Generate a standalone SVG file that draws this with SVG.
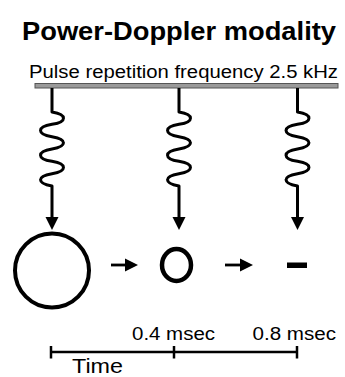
<svg xmlns="http://www.w3.org/2000/svg" xmlns:xlink="http://www.w3.org/1999/xlink" width="345" height="377" viewBox="0 0 345 377">
<style>
text{font-family:"Liberation Sans",Arial,Helvetica,sans-serif;fill:#000}
.title{font-size:26px;font-weight:bold}
.sub{font-size:18px}
.lbl{font-size:18px}
.time{font-size:21px}
.ln{fill:none;stroke:#000;stroke-width:2.8}
.wave{fill:none;stroke:#000;stroke-width:3;stroke-linejoin:round}
.ax{fill:none;stroke:#000;stroke-width:2.5}
</style>
<defs>
<marker id="ah" markerUnits="userSpaceOnUse" markerWidth="14" markerHeight="14" viewBox="0 0 14 14" refX="7" refY="7" orient="auto">
<path d="M0,0.5 L13,7 L0,13.5 Z" fill="#000"/>
</marker>
<path id="pulse" class="wave" d="M0,88 V112 C15.3,114.5 15.3,121.9 0,124.33 C-15.3,126.8 -15.3,134.2 0,136.67 C15.3,139.1 15.3,146.5 0,149 C-15.3,151.5 -15.3,158.9 0,161.33 C15.3,163.8 15.3,171.2 0,173.67 C-15.3,176.1 -15.3,183.5 0,186 V224" marker-end="url(#ah)"/>
</defs>
<g id="title">
<text class="title" x="22" y="40" textLength="314" lengthAdjust="spacingAndGlyphs">Power-Doppler modality</text>
</g>
<g id="prf">
<text class="sub" x="29" y="78" textLength="309" lengthAdjust="spacingAndGlyphs">Pulse repetition frequency 2.5 kHz</text>
<rect x="35" y="83.5" width="303" height="4.5" fill="#9a9a9a" stroke="#555" stroke-width="1"/>
</g>
<g id="connectors">
<use xlink:href="#pulse" href="#pulse" x="52"/>
<use xlink:href="#pulse" href="#pulse" x="179"/>
<use xlink:href="#pulse" href="#pulse" x="297.5"/>
<line class="ln" x1="111" y1="265" x2="132" y2="265" marker-end="url(#ah)"/>
<line class="ln" x1="225" y1="265" x2="247" y2="265" marker-end="url(#ah)"/>
</g>
<g id="bubble-large">
<circle cx="52" cy="270.5" r="37" fill="none" stroke="#000" stroke-width="4"/>
</g>
<g id="bubble-small">
<ellipse cx="176.5" cy="265" rx="14.5" ry="16" fill="none" stroke="#000" stroke-width="4.5"/>
</g>
<g id="bubble-gone">
<rect x="287" y="262.5" width="20" height="5.5" fill="#000"/>
</g>
<g id="time-axis">
<line class="ax" x1="50.5" y1="352" x2="297.5" y2="352"/>
<line class="ax" x1="51" y1="346" x2="51" y2="358.5"/>
<line class="ax" x1="174" y1="346" x2="174" y2="358.5"/>
<line class="ax" x1="297" y1="346" x2="297" y2="358.5"/>
<text class="lbl" x="132" y="340" textLength="83" lengthAdjust="spacingAndGlyphs">0.4 msec</text>
<text class="lbl" x="252.5" y="340" textLength="83.5" lengthAdjust="spacingAndGlyphs">0.8 msec</text>
<text class="time" x="72" y="373" textLength="51" lengthAdjust="spacingAndGlyphs">Time</text>
</g>
</svg>
